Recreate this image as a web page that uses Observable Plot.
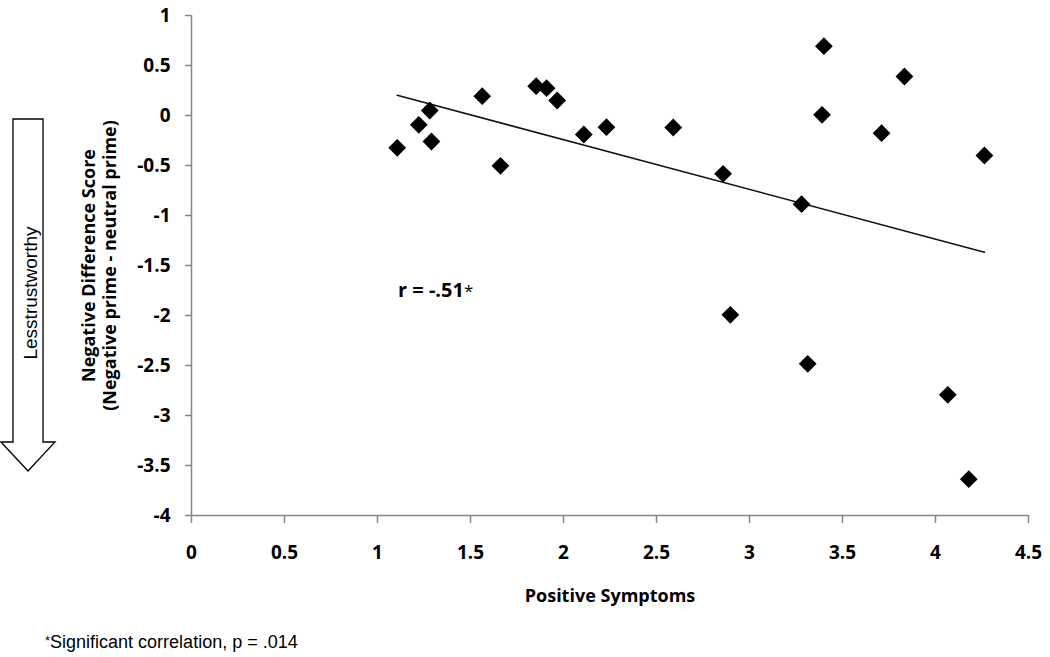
<!DOCTYPE html>
<html>
<head>
<meta charset="utf-8">
<script src="https://cdn.jsdelivr.net/npm/d3@7"></script>
<script src="https://cdn.jsdelivr.net/npm/@observablehq/plot@0.6"></script>
<style>
  html, body { margin: 0; padding: 0; background: #fff; }
  #chart { width: 1050px; height: 657px; }
</style>
</head>
<body>
<div id="chart"></div>
<script>
// Positive Symptoms (x) and Negative Difference Score (y) per participant
const positiveSymptoms = [1.106, 1.222, 1.281, 1.29, 1.563, 1.661, 1.853, 1.909, 1.966, 2.109, 2.231, 2.59,
  2.858, 2.897, 3.28, 3.313, 3.39, 3.40, 3.71, 3.833, 4.066, 4.179, 4.263];
const negativeDifference = [-0.323, -0.093, 0.05, -0.26, 0.193, -0.503, 0.293, 0.273, 0.15, -0.19, -0.117, -0.12,
  -0.583, -1.993, -0.887, -2.483, 0.007, 0.693, -0.177, 0.39, -2.793, -3.637, -0.40];

const xTicks = [0, 0.5, 1, 1.5, 2, 2.5, 3, 3.5, 4, 4.5];
const yTicks = [1, 0.5, 0, -0.5, -1, -1.5, -2, -2.5, -3, -3.5, -4];

const xTitle = "Positive Symptoms";
const yTitle = "Negative Difference Score\n(Negative prime - neutral prime)";
const arrowLabel = "Lesstrustworthy";
const corrLabel = "r = -.51";
const corrAt = {x: 1.113, y: -1.82};
const footnote = "Significant correlation, p = .014";

const points = positiveSymptoms.map((x, i) => ({x, y: negativeDifference[i]}));

const AXIS_GREY = "#868686";
const BOLD_FONT = "'Open Sans', 'DejaVu Sans', sans-serif";
const PLAIN_FONT = "'Liberation Sans', Arial, sans-serif";

const chart = Plot.plot({
  width: 1050,
  height: 657,
  marginLeft: 191,
  marginRight: 22,
  marginTop: 15,
  marginBottom: 142,
  style: {fontFamily: BOLD_FONT, fontWeight: "bold", background: "white", color: "black"},
  x: {domain: [0, 4.5]},
  y: {domain: [-4, 1]},
  marks: [
    Plot.ruleX([0], {stroke: AXIS_GREY, strokeWidth: 1.5}),
    Plot.ruleY([-4], {stroke: AXIS_GREY, strokeWidth: 1.5}),
    Plot.axisX({ticks: xTicks, tickSize: 8, tickPadding: 22, color: "black", stroke: AXIS_GREY,
      strokeWidth: 1.5, fontSize: 19, tickFormat: d => String(d), label: null}),
    Plot.axisY({ticks: yTicks, tickSize: 6, tickPadding: 15, color: "black", stroke: AXIS_GREY,
      strokeWidth: 1.5, fontSize: 19, tickFormat: d => String(d), label: null}),
    Plot.linearRegressionY(points, {x: "x", y: "y", ci: 0, stroke: "#111", strokeWidth: 1.6}),
    Plot.dot(points, {x: "x", y: "y", symbol: "diamond2", r: 8, fill: "black", stroke: null}),
    Plot.text([xTitle], {frameAnchor: "bottom", dy: 81, fontSize: 18, lineAnchor: "middle", fill: "black"}),
    Plot.text([yTitle], {frameAnchor: "left", dx: -93, rotate: -90, fontSize: 18, lineHeight: 1.2,
      textAnchor: "middle", lineAnchor: "middle", fill: "black"})
  ]
});

document.getElementById("chart").appendChild(chart);

const svg = d3.select(chart);
const xs = chart.scale("x");
const ys = chart.scale("y");

// "Less trustworthy" block arrow (annotation)
svg.append("path")
  .attr("d", "M13,119 H43 V442 H55 L28,471 L1,442 H13 Z")
  .attr("fill", "white")
  .attr("stroke", "black")
  .attr("stroke-width", 1.3);
svg.append("text")
  .attr("transform", "translate(30,293) rotate(-90)")
  .attr("text-anchor", "middle")
  .attr("dominant-baseline", "central")
  .attr("font-family", PLAIN_FONT)
  .attr("font-weight", "normal")
  .attr("font-size", 19)
  .attr("fill", "black")
  .text(arrowLabel);

// correlation annotation
const corr = svg.append("text")
  .attr("x", xs.apply(corrAt.x))
  .attr("y", ys.apply(corrAt.y))
  .attr("text-anchor", "start")
  .attr("font-family", BOLD_FONT)
  .attr("font-weight", "bold")
  .attr("font-size", 20)
  .attr("fill", "black");
corr.append("tspan").text(corrLabel);
corr.append("tspan").attr("font-size", 17).attr("font-weight", "normal").text("*");

// footnote
const fn = svg.append("text")
  .attr("x", 45)
  .attr("y", 648)
  .attr("text-anchor", "start")
  .attr("font-family", PLAIN_FONT)
  .attr("font-weight", "normal")
  .attr("font-size", 18)
  .attr("fill", "black");
fn.append("tspan").attr("font-size", 13).attr("dy", -3).text("*");
fn.append("tspan").attr("dy", 3).text(footnote);
</script>
</body>
</html>
